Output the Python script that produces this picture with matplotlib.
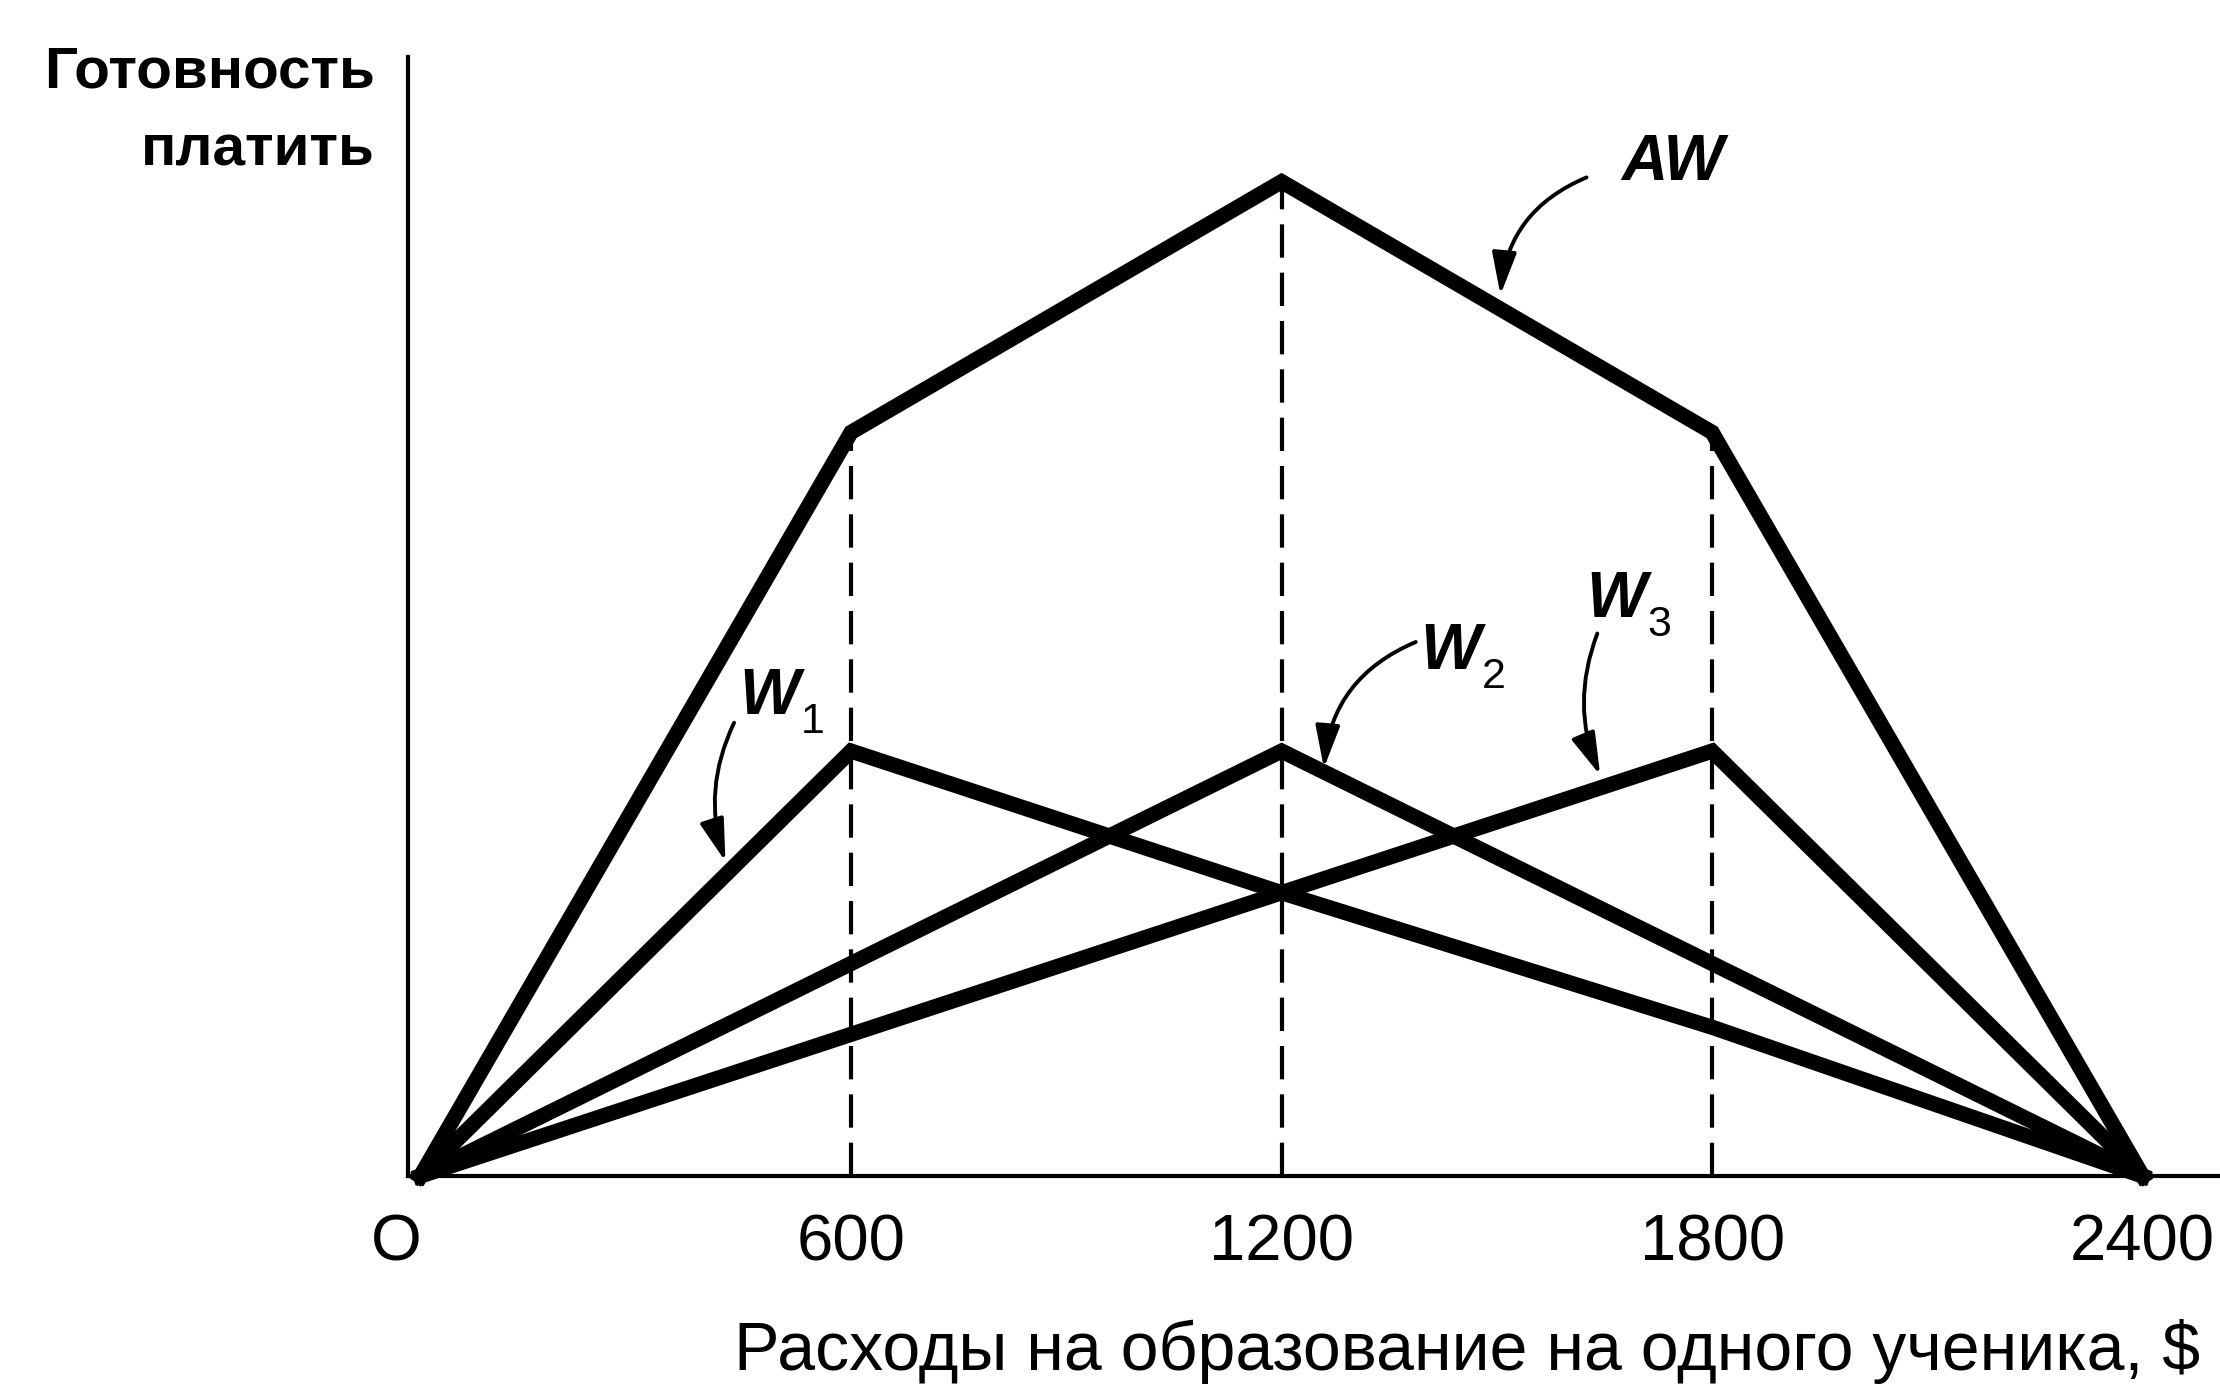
import matplotlib
matplotlib.use('Agg')
import matplotlib.pyplot as plt
import matplotlib.transforms as mtransforms

# spending per pupil and willingness to pay
x_pts = [0, 600, 1200, 1800, 2400]
w1 = [0, 3.0, 2.0, 1.05, 0]
w2 = [0, 1.5, 3.0, 1.5, 0]
w3 = [0, 1.0, 2.0, 3.0, 0]
aw = [0, 5.25, 7.02, 5.25, 0]
guides = [600, 1200, 1800]
tick_pos = [0, 600, 1200, 1800, 2400]
tick_lab = ['O', '600', '1200', '1800', '2400']

plt.rcParams['font.family'] = ['Liberation Sans', 'DejaVu Sans']

fig = plt.figure(figsize=(22.2, 13.88), dpi=100)
W, H = 2220, 1388
ax = fig.add_axes([408 / W, 212 / H, (2218 - 408) / W, (1331 - 212) / H])
ax.set_xlim(-17.4, 2505)
ax.set_ylim(0, 7.9)

for s in ['top', 'right']:
    ax.spines[s].set_visible(False)
for s in ['left', 'bottom']:
    ax.spines[s].set_linewidth(3.0)
    ax.spines[s].set_color('black')

lw = 11.0
for yy in [w1, w2, w3, aw]:
    ax.plot(x_pts, yy, color='black', lw=lw, solid_joinstyle='miter', clip_on=False)

# dashed guides up to AW
for g in guides:
    top = aw[x_pts.index(g)]
    ax.plot([g, g], [0, top], color='black', lw=3.0, ls=(0, (8, 3.6)))

ax.set_yticks([])
ax.set_xticks(tick_pos)
ax.set_xticklabels(tick_lab, fontsize=47)
ax.tick_params(axis='x', length=0, pad=27)
# the "O" sits a little left of the origin
lbl0 = ax.get_xticklabels()[0]
lbl0.set_transform(lbl0.get_transform() +
                   mtransforms.ScaledTranslation(-0.24, 0, fig.dpi_scale_trans))

ann = dict(arrowstyle='-|>,head_length=2.6,head_width=0.75', color='black', lw=2.8,
           shrinkA=0, shrinkB=0)
arrows = [((1505, 6.22), (1625, 7.05), 0.3),
          ((425, 2.22), (437, 3.2), 0.2),
          ((1259, 2.88), (1387, 3.77), 0.3),
          ((1644, 2.83), (1640, 3.83), 0.2)]
for tip, tail, rad in arrows:
    ax.annotate('', xy=tip, xytext=tail,
                arrowprops=dict(connectionstyle=f'arc3,rad={rad}', **ann))

lab = dict(fontsize=46, style='italic', fontweight='bold', ha='center', va='center')
ax.text(1745, 7.15, 'AW', **lab)
for txt, (lx, ly) in [('1', (487, 3.38)), ('2', (1436, 3.70)), ('3', (1666, 4.07))]:
    ax.text(lx, ly, 'W', **lab)
    ax.annotate(txt, xy=(lx, ly), xytext=(31, -18), textcoords='offset points',
                fontsize=31, ha='center', va='center')

fig.text(375 / W, 1 - 87 / H, 'Готовность', fontsize=42, fontweight='bold',
         ha='right', va='baseline')
fig.text(375 / W, 1 - 165 / H, 'платить', fontsize=42, fontweight='bold',
         ha='right', va='baseline')
fig.text(2200 / W, 18 / H, 'Расходы на образование на одного ученика, $',
         fontsize=49, ha='right', va='baseline')

fig.savefig('out.png', dpi=100)
